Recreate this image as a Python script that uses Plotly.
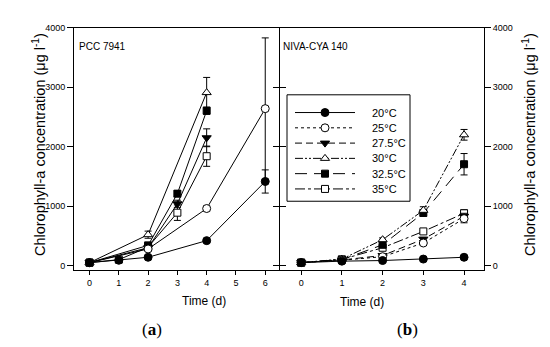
import plotly.graph_objects as go

# ---------------- data ----------------
temps = ["20°C", "25°C", "27.5°C", "30°C", "32.5°C", "35°C"]

# Panel (a) PCC 7941
pcc_20_days = [0, 1, 2, 4, 6]
pcc_20_vals = [50, 90, 140, 420, 1415]
pcc_20_err = [0, 0, 20, 30, 195]
pcc_25_days = [0, 2, 4, 6]
pcc_25_vals = [50, 280, 960, 2640]
pcc_25_err = [0, 0, 40, 1190]
pcc_275_days = [0, 2, 3, 4]
pcc_275_vals = [50, 300, 1040, 2150]
pcc_275_err = [0, 0, 60, 150]
pcc_30_days = [0, 2, 4]
pcc_30_vals = [50, 520, 2910]
pcc_30_err = [0, 60, 255]
pcc_325_days = [0, 2, 3, 4]
pcc_325_vals = [50, 340, 1210, 2605]
pcc_325_err = [0, 0, 50, 60]
pcc_35_days = [0, 1, 2, 3, 4]
pcc_35_vals = [50, 100, 310, 890, 1840]
pcc_35_err = [0, 0, 40, 130, 170]

# Panel (b) NIVA-CYA 140
niva_days = [0, 1, 2, 3, 4]
niva_20_vals = [50, 75, 85, 110, 140]
niva_20_err = [0, 0, 0, 10, 15]
niva_25_vals = [50, 90, 150, 380, 790]
niva_25_err = [0, 0, 0, 30, 70]
niva_275_vals = [50, 95, 170, 445, 830]
niva_275_err = [0, 0, 0, 30, 50]
niva_30_vals = [50, 110, 436, 930, 2200]
niva_30_err = [0, 0, 30, 60, 90]
niva_325_vals = [50, 100, 350, 885, 1705]
niva_325_err = [0, 0, 0, 50, 180]
niva_35_vals = [50, 105, 300, 575, 880]
niva_35_err = [0, 0, 0, 20, 60]

y_ticks = [0, 1000, 2000, 3000, 4000]
x_ticks_a = [0, 1, 2, 3, 4, 5, 6]
x_ticks_b = [0, 1, 2, 3, 4]

# ---------------- styles ----------------
symbols = ["circle", "circle", "triangle-down", "triangle-up", "square", "square"]
fills = ["black", "white", "black", "white", "black", "white"]
sizes = [8, 8, 8, 8, 7, 7]
dashes = ["solid", "dot", "7px,4px", "8px,2px,2px,2px,2px,2px", "12px,7px", "10px,3px,3px,3px"]

pcc_series = [
    (pcc_20_days, pcc_20_vals, pcc_20_err),
    (pcc_25_days, pcc_25_vals, pcc_25_err),
    (pcc_275_days, pcc_275_vals, pcc_275_err),
    (pcc_30_days, pcc_30_vals, pcc_30_err),
    (pcc_325_days, pcc_325_vals, pcc_325_err),
    (pcc_35_days, pcc_35_vals, pcc_35_err),
]
niva_series = [
    (niva_days, niva_20_vals, niva_20_err),
    (niva_days, niva_25_vals, niva_25_err),
    (niva_days, niva_275_vals, niva_275_err),
    (niva_days, niva_30_vals, niva_30_err),
    (niva_days, niva_325_vals, niva_325_err),
    (niva_days, niva_35_vals, niva_35_err),
]

fig = go.Figure()

def add_series(days, vals, err, i, xa, ya, dash):
    fig.add_trace(go.Scatter(
        x=days, y=vals, xaxis=xa, yaxis=ya, mode="lines+markers",
        line=dict(color="black", width=1, dash=dash),
        marker=dict(symbol=symbols[i], size=sizes[i], color=fills[i],
                    line=dict(color="black", width=1)),
        error_y=dict(type="data", array=err, visible=True, color="black",
                     thickness=1, width=3.5),
        showlegend=False, cliponaxis=False,
    ))

# draw in reverse so 20°C markers are on top
for i in reversed(range(6)):
    d, v, e = pcc_series[i]
    add_series(d, v, e, i, "x", "y", "solid")
for i in reversed(range(6)):
    d, v, e = niva_series[i]
    add_series(d, v, e, i, "x2", "y2", dashes[i])

# ---------------- custom legend (inside panel b) ----------------
W, H = 550, 347
leg_l, leg_r, leg_t, leg_b = 279, 402, 83, 191
leg_rows = [18, 33.5, 49, 64.5, 80, 95.5]
for i in range(6):
    fig.add_trace(go.Scatter(
        x=[8, 68], y=[leg_rows[i]] * 2, xaxis="x3", yaxis="y3", mode="lines",
        line=dict(color="black", width=1, dash=dashes[i]), showlegend=False,
        hoverinfo="skip"))
    fig.add_trace(go.Scatter(
        x=[38], y=[leg_rows[i]], xaxis="x3", yaxis="y3", mode="markers",
        marker=dict(symbol=symbols[i], size=sizes[i], color=fills[i],
                    line=dict(color="black", width=1)),
        showlegend=False, hoverinfo="skip"))
    fig.add_annotation(x=83, y=leg_rows[i], xref="x3", yref="y3", text=temps[i],
                       showarrow=False, xanchor="left", yanchor="middle",
                       font=dict(family="Arial, Liberation Sans", size=11, color="black"))

fig.add_shape(type="rect", xref="paper", yref="paper",
              x0=leg_l / W, x1=leg_r / W, y0=1 - leg_b / H, y1=1 - leg_t / H,
              line=dict(color="black", width=1), fillcolor="rgba(0,0,0,0)")

# ---------------- layout ----------------
xl, xm, xm2, xr = 66 / W, 271 / W, 272 / W, 476 / W
yb, yt = 1 - 261 / H, 1 - 15 / H
tickfont = dict(family="Arial, Liberation Sans", size=9, color="black")
titlefont = dict(family="Arial, Liberation Sans", size=14.5, color="black")
ytitle = "Chlorophyll-a concentration (μg l<sup>-1</sup>)"

common_axis = dict(showgrid=False, zeroline=False, showline=True, linecolor="black",
                   linewidth=1, ticks="outside", tickcolor="black", tickwidth=1,
                   tickfont=tickfont)

fig.update_layout(
    width=W, height=H, margin=dict(l=0, r=0, t=0, b=0),
    paper_bgcolor="white", plot_bgcolor="white", showlegend=False,
    xaxis=dict(domain=[xl, xm], range=[-0.53, 6.47], tickvals=x_ticks_a,
               ticklen=4, mirror=True, anchor="y", **common_axis),
    yaxis=dict(domain=[yb, yt], range=[-78, 4000], tickvals=y_ticks,
               ticklen=6, mirror="ticks", anchor="x", **common_axis),
    xaxis2=dict(domain=[xm2, xr], range=[-0.52, 4.49], tickvals=x_ticks_b,
                ticklen=4, mirror=True, anchor="y2", **common_axis),
    yaxis2=dict(domain=[yb, yt], range=[-78, 4000], tickvals=y_ticks,
                ticklen=6, mirror="ticks", side="right", anchor="x2", **common_axis),
    xaxis3=dict(domain=[leg_l / W, leg_r / W], range=[0, leg_r - leg_l],
                visible=False, anchor="y3", fixedrange=True),
    yaxis3=dict(domain=[1 - leg_b / H, 1 - leg_t / H], range=[leg_b - leg_t, 0],
                visible=False, anchor="x3", fixedrange=True),
)

# axis titles & labels as annotations for precise placement
fig.add_annotation(x=20 / W, y=1 - 134 / H, xref="paper", yref="paper", text=ytitle,
                   textangle=-90, showarrow=False, font=titlefont)
fig.add_annotation(x=532 / W, y=1 - 134 / H, xref="paper", yref="paper", text=ytitle,
                   textangle=-90, showarrow=False, font=titlefont)
fig.add_annotation(x=172 / W, y=1 - 301 / H, xref="paper", yref="paper", text="Time (d)",
                   showarrow=False, font=dict(family="Arial, Liberation Sans", size=12, color="black"))
fig.add_annotation(x=378 / W, y=1 - 302 / H, xref="paper", yref="paper", text="Time (d)",
                   showarrow=False, font=dict(family="Arial, Liberation Sans", size=12, color="black"))
fig.add_annotation(x=132 / W, y=1 - 333 / H, xref="paper", yref="paper", text="(<b>a</b>)",
                   showarrow=False, font=dict(family="Liberation Serif, DejaVu Serif", size=17, color="black"))
fig.add_annotation(x=412 / W, y=1 - 333 / H, xref="paper", yref="paper", text="(<b>b</b>)",
                   showarrow=False, font=dict(family="Liberation Serif, DejaVu Serif", size=17, color="black"))
fig.add_annotation(x=69 / W, y=1 - 26 / H, xref="paper", yref="paper", text="PCC 7941",
                   showarrow=False, xanchor="left",
                   font=dict(family="Arial, Liberation Sans", size=10, color="black"))
fig.add_annotation(x=273 / W, y=1 - 26 / H, xref="paper", yref="paper", text="NIVA-CYA 140",
                   showarrow=False, xanchor="left",
                   font=dict(family="Arial, Liberation Sans", size=10, color="black"))

fig.write_html("out.html")
